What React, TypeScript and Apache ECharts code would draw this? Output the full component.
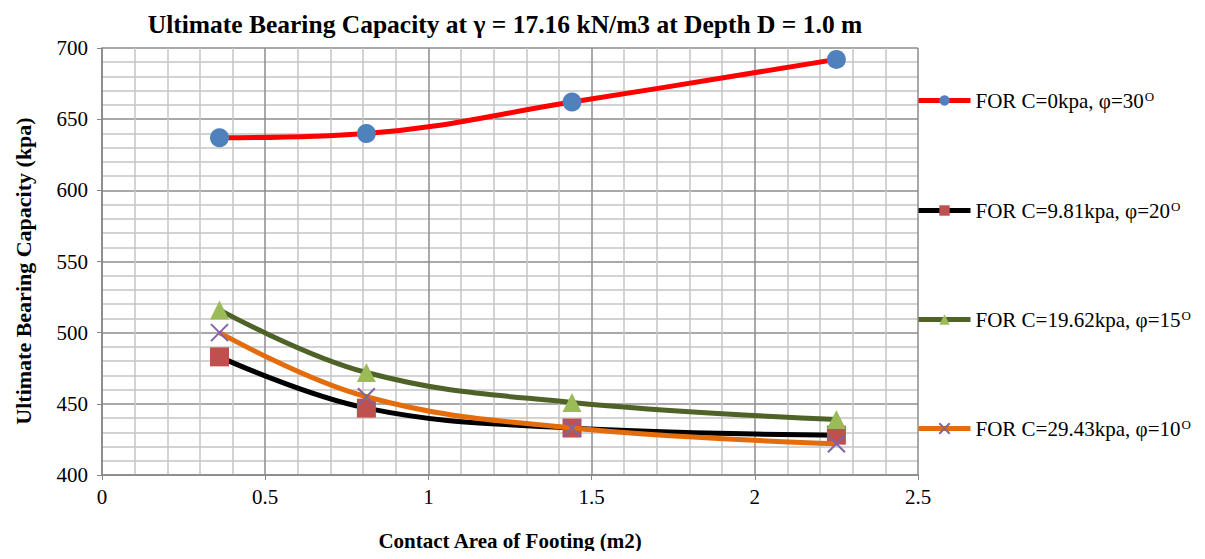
import React, { useEffect, useRef } from "react";
import * as echarts from "echarts";

const xValues = [0.36, 0.81, 1.44, 2.25];
const seriesNames = [
  "FOR C=0kpa, φ=30",
  "FOR C=9.81kpa, φ=20",
  "FOR C=19.62kpa, φ=15",
  "FOR C=29.43kpa, φ=10",
];
const s1 = [637, 640, 662, 692];
const s2 = [483, 447, 433, 428];
const s3 = [516, 472, 451, 439];
const s4 = [500, 455, 433, 422];
const allValues = [s1, s2, s3, s4];

const lineColors = ["#FF0000", "#000000", "#4F6228", "#E46C0A"];
const markerColors = ["#4F81BD", "#C0504D", "#9BBB59", "#8064A2"];
const symbols = ["circle", "rect", "triangle", "path://M0,0L10,10M10,0L0,10"];
const legendTops = [90, 200, 309, 418];

const FONT = "'Liberation Serif', 'Times New Roman', serif";

export default function App() {
  const ref = useRef<HTMLDivElement>(null);
  useEffect(() => {
    if (!ref.current) return;
    const chart = echarts.init(ref.current, null, { renderer: "svg" });
    const series = allValues.map((vals, i) => ({
      name: seriesNames[i],
      type: "line",
      smooth: 0.4,
      data: vals.map((v, j) => [xValues[j], v]),
      symbol: symbols[i],
      symbolSize: i === 3 ? 17 : 19,
      lineStyle: { color: lineColors[i], width: 5 },
      itemStyle:
        i === 3
          ? { color: "rgba(0,0,0,0)", borderColor: markerColors[i], borderWidth: 2 }
          : { color: markerColors[i], borderWidth: 0 },
      z: 2 + i,
    }));
    const legends = seriesNames.map((n, i) => ({
      left: 916,
      top: legendTops[i],
      orient: "vertical",
      data: [n],
      itemWidth: 52,
      itemHeight: 13,
      padding: 0,
      lineStyle: { width: 5 },
      formatter: (name: string) => `{a|${name}}{s|O}`,
      textStyle: {
        color: "#000",
        fontFamily: FONT,
        fontSize: 21,
        rich: {
          a: { fontFamily: FONT, fontSize: 21, color: "#000" },
          s: { fontFamily: FONT, fontSize: 13, color: "#000", verticalAlign: "top", padding: [0, 0, 8, 1] },
        },
      },
    }));
    chart.setOption({
      animation: false,
      backgroundColor: "#fff",
      title: {
        text: "Ultimate Bearing Capacity at γ = 17.16 kN/m3 at Depth D = 1.0 m",
        left: 500,
        textAlign: "center",
        top: 6,
        textStyle: { fontFamily: FONT, fontWeight: "bold", fontSize: 25.5, color: "#000" },
      },
      legend: legends,
      grid: { left: 102, right: 287, top: 48, bottom: 84 },
      graphic: [
        {
          type: "text",
          x: 23,
          y: 271,
          rotation: Math.PI / 2,
          style: {
            text: "Ultimate Bearing Capacity (kpa)",
            fontFamily: FONT,
            fontWeight: "bold",
            fontSize: 22,
            fill: "#000",
            align: "center",
            verticalAlign: "middle",
          },
        },
      ],
      xAxis: {
        type: "value",
        min: 0,
        max: 2.5,
        interval: 0.5,
        name: "Contact Area of Footing (m2)",
        nameLocation: "middle",
        nameGap: 55,
        nameTextStyle: { fontFamily: FONT, fontWeight: "bold", fontSize: 21, color: "#000" },
        axisLine: { show: true, lineStyle: { color: "#868686", width: 1.5 } },
        axisTick: { show: true, length: 5, lineStyle: { color: "#868686" } },
        axisLabel: { fontFamily: FONT, fontSize: 21, color: "#000", margin: 11 },
        splitLine: { show: true, lineStyle: { color: "#8c8c8c", width: 1.5 } },
        minorTick: { show: false, splitNumber: 5 },
        minorSplitLine: { show: true, lineStyle: { color: "#c4c4c4", width: 1.5 } },
      },
      yAxis: {
        type: "value",
        min: 400,
        max: 700,
        interval: 50,
        axisLine: { show: true, lineStyle: { color: "#868686", width: 1.5 } },
        axisTick: { show: true, length: 5, lineStyle: { color: "#868686" } },
        axisLabel: { fontFamily: FONT, fontSize: 21, color: "#000", margin: 14 },
        splitLine: { show: true, lineStyle: { color: "#8c8c8c", width: 1.5 } },
        minorTick: { show: false, splitNumber: 5 },
        minorSplitLine: { show: true, lineStyle: { color: "#c4c4c4", width: 1.5 } },
      },
      series,
    });
    return () => chart.dispose();
  }, []);
  return <div ref={ref} style={{ width: 1205, height: 559, margin: -8 }} />;
}
